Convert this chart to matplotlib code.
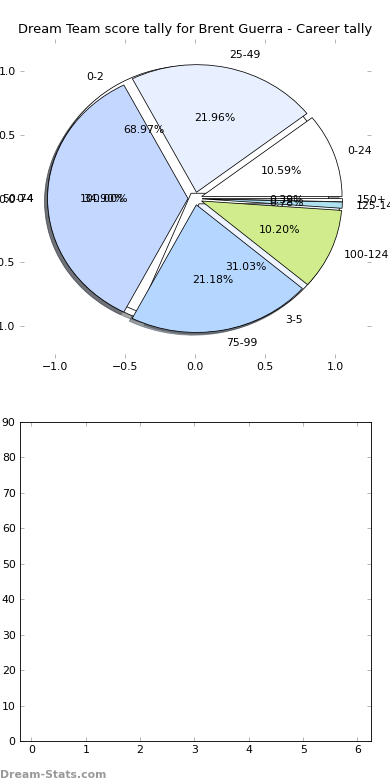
import matplotlib
matplotlib.use('Agg')
import matplotlib.pyplot as plt

# DATA
score_ranges = ['0-24', '25-49', '50-74', '75-99', '100-124', '125-149', '150+']
score_counts = [27, 56, 89, 54, 26, 2, 1]
goal_ranges = ['0-2', '3-5']
goal_counts = [20, 9]
other_ranges = ['0-4']
other_counts = [1]

score_colors = ['#ffffff', '#e8f0ff', '#c4d7ff', '#b5d6ff', '#d0ec8c', '#aee0f0', '#ffffff']
goal_colors = ['#ffffff', '#eef4ff']
other_colors = ['#ffffff']

fig = plt.figure(figsize=(5, 10), dpi=78)
fig.subplots_adjust(left=0.05, right=0.95, top=0.95, bottom=0.05, hspace=0.2)

# PIE AXES
ax1 = fig.add_subplot(2, 1, 1)
wp = dict(edgecolor='black', linewidth=0.7)
ax1.pie(other_counts, labels=other_ranges, colors=other_colors, explode=[0.05],
        autopct='%1.2f%%', shadow=True, wedgeprops=wp, frame=True)
ax1.pie(goal_counts, labels=goal_ranges, colors=goal_colors, explode=[0.05] * len(goal_counts),
        autopct='%1.2f%%', shadow=True, wedgeprops=wp, frame=True)
ax1.pie(score_counts, labels=score_ranges, colors=score_colors, explode=[0.05] * len(score_counts),
        autopct='%1.2f%%', shadow=True, wedgeprops=wp, frame=True)
ax1.set_aspect('auto')
ax1.set_xlim(-1.25, 1.25)
ax1.set_ylim(-1.25, 1.25)
ax1.set_xticks([-1.0, -0.5, 0.0, 0.5, 1.0])
ax1.set_yticks([-1.0, -0.5, 0.0, 0.5, 1.0])
ax1.set_frame_on(False)
ax1.tick_params(direction='in', top=True, right=True, color='#aaaaaa', labelsize=10)
ax1.set_title('Dream Team score tally for Brent Guerra - Career tally', fontsize=12)

# EMPTY BAR AXES
ax2 = fig.add_subplot(2, 1, 2)
ax2.set_xlim(-0.22, 6.24)
ax2.set_ylim(0, 90)
ax2.set_xticks(range(7))
ax2.set_yticks(range(0, 91, 10))
ax2.tick_params(direction='in', top=True, right=True, color='#aaaaaa', labelsize=10)

fig.text(0.0, 0.0, 'Dream-Stats.com', fontsize=10, color='#999999', fontweight='bold',
         ha='left', va='bottom')

fig.savefig('out.png', dpi=78)
